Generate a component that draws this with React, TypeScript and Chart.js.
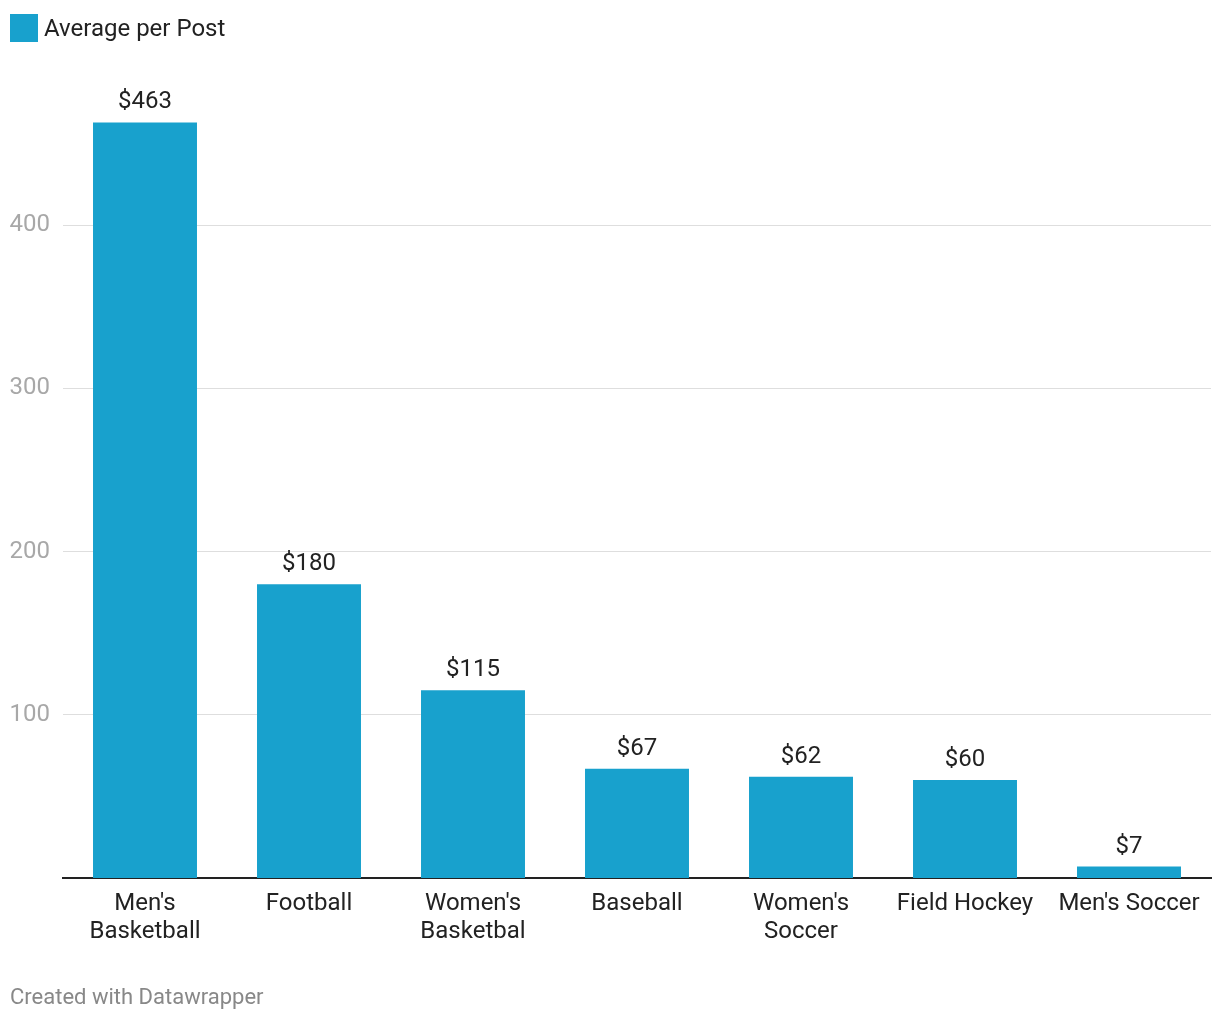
import React, { useEffect, useRef } from "react";
import { Chart, registerables } from "chart.js";

Chart.register(...registerables);

const categories: (string | string[])[] = [
  ["Men's", "Basketball"],
  "Football",
  ["Women's", "Basketbal"],
  "Baseball",
  ["Women's", "Soccer"],
  "Field Hockey",
  "Men's Soccer",
];
const values = [463, 180, 115, 67, 62, 60, 7];
const yTickValues = [100, 200, 300, 400];
const seriesLabel = "Average per Post";
const footerText = "Created with Datawrapper";

const BAR_COLOR = "#18a1cd";
const FONT = "Roboto";

export default function App() {
  const ref = useRef<HTMLCanvasElement | null>(null);

  useEffect(() => {
    if (!ref.current) return;
    const valueLabels = {
      id: "valueLabels",
      afterDatasetsDraw(chart: any) {
        const ctx = chart.ctx;
        const meta = chart.getDatasetMeta(0);
        ctx.save();
        ctx.font = `24px ${FONT}`;
        ctx.fillStyle = "#222";
        ctx.textAlign = "center";
        ctx.textBaseline = "alphabetic";
        meta.data.forEach((bar: any, i: number) => {
          ctx.fillText("$" + values[i], bar.x, bar.y - 14);
        });
        ctx.restore();
      },
    };
    const chart = new Chart(ref.current, {
      type: "bar",
      data: {
        labels: categories,
        datasets: [
          {
            label: seriesLabel,
            data: values,
            backgroundColor: BAR_COLOR,
            barPercentage: 0.634,
            categoryPercentage: 1,
          },
        ],
      },
      options: {
        responsive: false,
        animation: false,
        layout: { padding: { top: 62, left: 0, right: 9, bottom: 60 } },
        plugins: {
          legend: { display: false },
          tooltip: { enabled: false },
        },
        scales: {
          x: {
            grid: { display: false, drawTicks: false },
            border: { display: true, color: "#222", width: 2 },
            ticks: {
              color: "#222",
              font: { family: FONT, size: 24, lineHeight: 1.17 },
              padding: 12,
              maxRotation: 0,
              autoSkip: false,
            },
            afterFit(scale: any) {
              scale.height = 82;
            },
          },
          y: {
            min: 0,
            max: 500,
            grid: { color: "#dedede", lineWidth: 1, drawTicks: false },
            border: { display: false },
            ticks: {
              color: "#a8a8a8",
              font: { family: FONT, size: 24 },
              padding: 13,
            },
            afterBuildTicks(scale: any) {
              scale.ticks = yTickValues.map((v) => ({ value: v }));
            },
            afterFit(scale: any) {
              scale.width = 63;
            },
          },
        },
      },
      plugins: [valueLabels],
    });
    return () => chart.destroy();
  }, []);

  return (
    <div
      style={{
        position: "fixed",
        left: 0,
        top: 0,
        width: 1220,
        height: 1020,
        background: "#fff",
        fontFamily: FONT,
      }}
    >
      <canvas ref={ref} width={1220} height={1020} style={{ position: "absolute", left: 0, top: 0 }} />
      <div style={{ position: "absolute", left: 10, top: 14, width: 28, height: 28, background: BAR_COLOR }} />
      <div
        style={{
          position: "absolute",
          left: 44,
          top: 14,
          height: 28,
          lineHeight: "28px",
          fontSize: 24,
          color: "#222",
          whiteSpace: "nowrap",
        }}
      >
        {seriesLabel}
      </div>
      <div
        style={{
          position: "absolute",
          left: 10,
          top: 983,
          lineHeight: "28px",
          fontSize: 22,
          color: "#888",
          whiteSpace: "nowrap",
        }}
      >
        {footerText}
      </div>
    </div>
  );
}
